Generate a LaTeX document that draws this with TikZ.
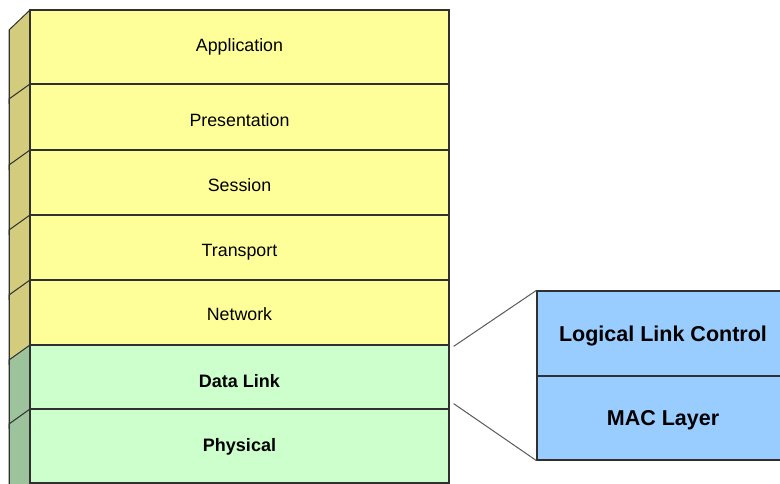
\documentclass[tikz,border=0pt]{standalone}
\usepackage{fontspec}
\setmainfont{Liberation Sans}
\usetikzlibrary{calc}
\definecolor{yfront}{HTML}{FFFF99}
\definecolor{yside}{HTML}{D2CC7C}
\definecolor{gfront}{HTML}{CCFFCC}
\definecolor{gside}{HTML}{9CC39C}
\definecolor{bfront}{HTML}{99CCFF}
\definecolor{edge}{HTML}{303030}
\tikzset{
  layer/.style={draw=edge, line width=1.2pt, rectangle, inner sep=0pt,
    minimum width=419pt},
  upper/.style={layer, fill=yfront},
  lower/.style={layer, fill=gfront},
  % labels centred on their capital letters
  lbl/.style={inner sep=0pt, text height=12.75pt, text depth=0pt,
    font=\fontsize{17.8}{20}\selectfont},
  blbl/.style={inner sep=0pt, text height=12.9pt, text depth=0pt,
    font=\fontsize{18}{20}\selectfont\bfseries},
  sub/.style={draw=edge, line width=1.2pt, rectangle, inner sep=0pt, fill=bfront,
    text height=15.4pt, text depth=0pt,
    minimum width=252pt, font=\fontsize{21.5}{24}\selectfont\bfseries},
  sideface/.style={draw=edge, line width=1pt},
  zoomline/.style={draw=edge!80, line width=1pt}
}
\begin{document}
\begin{tikzpicture}[x=1pt, y=-1pt]
\useasboundingbox (0,0) rectangle (780,484);
\clip (0,0) rectangle (780,484);

% side faces of the stack
\foreach \t/\b/\c [count=\i] in {10/84/yside, 84/150/yside, 150/215/yside, 215/280/yside,
    280/345/yside, 345/409/gside, 409/483/gside}{
  \pgfmathsetmacro{\off}{ifthenelse(\i==1,20,15)}
  \path[sideface, fill=\c] (30,\t) -- (30,\b+4) -- (9,\b+19) -- (9,\t+\off) -- cycle;
}
\draw[sideface] (9,499) -- (9,30);

% OSI layers
\node[upper, minimum height=74pt] (app)   at (239.5,47)    {};
\node[upper, minimum height=66pt] (pres)  at (239.5,117)   {};
\node[upper, minimum height=65pt] (sess)  at (239.5,182.5) {};
\node[upper, minimum height=65pt] (trans) at (239.5,247.5) {};
\node[upper, minimum height=65pt] (net)   at (239.5,312.5) {};
\node[lower, minimum height=64pt] (dl)    at (239.5,377)   {};
\node[lower, minimum height=74pt] (phy)   at (239.5,446)   {};

\node[lbl]  (appt)   at ($(app.north)+(0,36)$)   {Application};
\node[lbl]  (prest)  at ($(pres.north)+(0,36.5)$) {Presentation};
\node[lbl]  (sesst)  at ($(sess.north)+(0,36)$)  {Session};
\node[lbl]  (transt) at ($(trans.north)+(0,36)$) {Transport};
\node[lbl]  (nett)   at ($(net.north)+(0,35)$)   {Network};
\node[blbl] (dlt)    at ($(dl.north)+(0,36.5)$)  {Data Link};
\node[blbl] (phyt)   at ($(phy.north)+(0,37)$)   {Physical};

% data link sublayers
\node[sub, minimum height=85pt] (llc) at (663,333.5) {Logical Link Control};
\node[sub, minimum height=84pt] (mac) at (663,418)   {MAC Layer};

% zoom lines
\coordinate (za) at ($(dl.north east)+(4,2)$);
\coordinate (zb) at ($(dl.south east)+(4,-6)$);
\draw[zoomline] (za) -- (llc.north west);
\draw[zoomline] (zb) -- (mac.south west);
\end{tikzpicture}
\end{document}
